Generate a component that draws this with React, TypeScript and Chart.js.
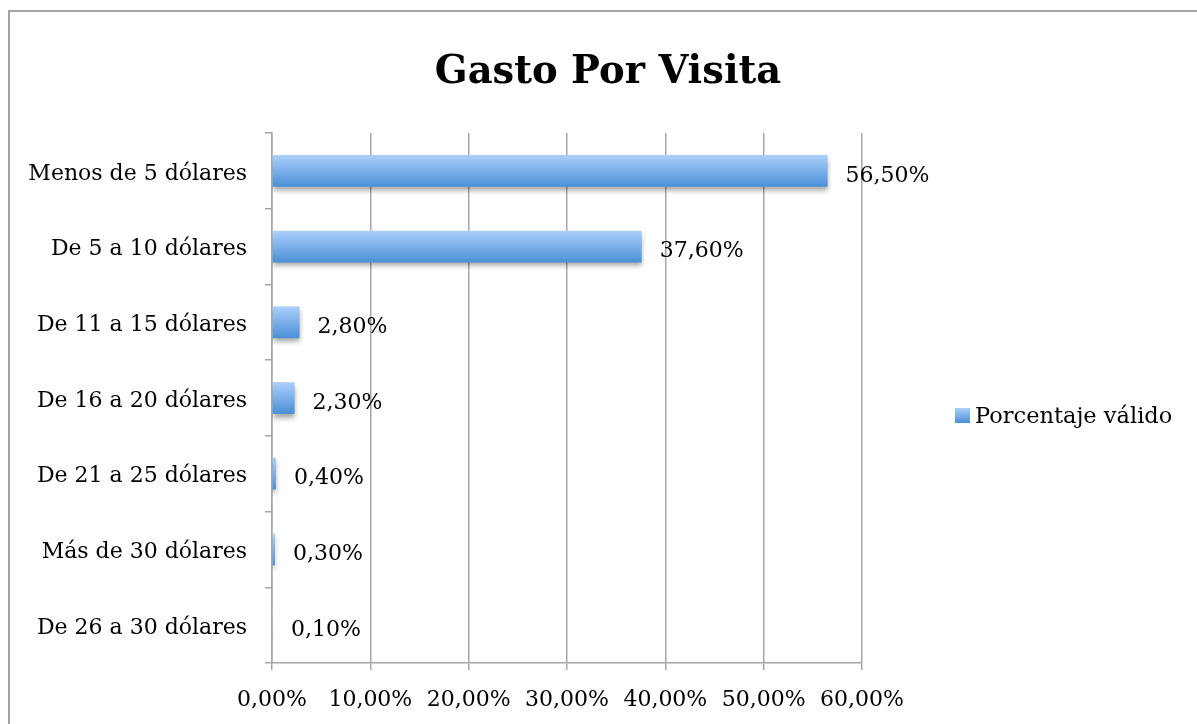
import React, { useEffect, useRef } from "react";
import { Chart, registerables } from "chart.js";

Chart.register(...registerables);

const chartTitle = "Gasto Por Visita";
const seriesName = "Porcentaje válido";
const categories = [
  "Menos de 5 dólares",
  "De 5 a 10 dólares",
  "De 11 a 15 dólares",
  "De 16 a 20 dólares",
  "De 21 a 25 dólares",
  "Más de 30 dólares",
  "De 26 a 30 dólares",
];
const values = [56.5, 37.6, 2.8, 2.3, 0.4, 0.3, 0.1];
const xTicks = [0, 10, 20, 30, 40, 50, 60];

const FONT = "'DejaVu Serif', serif";
const GRID = "#a6a6a6";
const BAR_PCT = 0.42;

const fmt = (v: number) => v.toFixed(2).replace(".", ",") + "%";

function makeGrad(ctx: CanvasRenderingContext2D, y0: number, y1: number) {
  const g = ctx.createLinearGradient(0, y0, 0, y1);
  g.addColorStop(0, "#acd0fb");
  g.addColorStop(1, "#4a8fd8");
  return g;
}

const decorPlugin = {
  id: "decor",
  beforeDraw(chart: any) {
    const ctx = chart.ctx;
    ctx.save();
    ctx.fillStyle = "#ffffff";
    ctx.fillRect(0, 0, chart.width, chart.height);
    ctx.strokeStyle = "#a3a3a3";
    ctx.lineWidth = 2;
    ctx.beginPath();
    ctx.moveTo(9, 724);
    ctx.lineTo(9, 11);
    ctx.lineTo(1197, 11);
    ctx.stroke();
    // title
    ctx.fillStyle = "#000";
    ctx.font = `bold 38.5px ${FONT}`;
    ctx.textAlign = "center";
    ctx.textBaseline = "middle";
    ctx.fillText(chartTitle, 608, 73);
    // legend
    const g = makeGrad(ctx, 408, 423);
    ctx.fillStyle = g;
    ctx.fillRect(955, 408, 15, 15);
    ctx.fillStyle = "#000";
    ctx.font = `22.5px ${FONT}`;
    ctx.textAlign = "left";
    ctx.fillText(seriesName, 975, 417);
    ctx.restore();
  },
  beforeDatasetsDraw(chart: any) {
    const ctx = chart.ctx;
    ctx.save();
    ctx.shadowColor = "rgba(0,0,0,0.35)";
    ctx.shadowBlur = 5;
    ctx.shadowOffsetY = 4;
  },
  afterDatasetsDraw(chart: any) {
    const ctx = chart.ctx;
    ctx.restore();
    const meta = chart.getDatasetMeta(0);
    ctx.save();
    ctx.fillStyle = "#000";
    ctx.font = `22px ${FONT}`;
    ctx.textAlign = "left";
    ctx.textBaseline = "middle";
    meta.data.forEach((bar: any, i: number) => {
      ctx.fillText(fmt(values[i]), bar.x + 18, bar.y + 5);
    });
    ctx.restore();
  },
};

export default function App() {
  const ref = useRef<HTMLCanvasElement>(null);
  useEffect(() => {
    if (!ref.current) return;
    const chart = new Chart(ref.current, {
      type: "bar",
      data: {
        labels: categories,
        datasets: [
          {
            label: seriesName,
            data: values,
            backgroundColor: (c: any) => {
              const ch = c.chart;
              const ys = ch.scales?.y;
              if (!ys || c.dataIndex === undefined) return "#7fb0ea";
              const band = ys.getPixelForValue(1) - ys.getPixelForValue(0);
              const yc = ys.getPixelForValue(c.dataIndex);
              const h = band * BAR_PCT;
              if (!isFinite(band) || !isFinite(yc) || !(h > 0)) return "#7fb0ea";
              return makeGrad(ch.ctx, yc - h / 2, yc + h / 2);
            },
            borderWidth: 0,
            barPercentage: BAR_PCT,
            categoryPercentage: 1,
          },
        ],
      },
      options: {
        indexAxis: "y",
        responsive: false,
        animation: false,
        layout: { padding: { top: 133, right: 335, left: 0, bottom: 0 } },
        plugins: {
          legend: { display: false },
          title: { display: false },
          tooltip: { enabled: false },
        },
        scales: {
          x: {
            min: 0,
            max: 60,
            afterBuildTicks: (s: any) => {
              s.ticks = xTicks.map((v) => ({ value: v }));
            },
            afterFit: (s: any) => {
              s.height = 724 - 663;
            },
            ticks: {
              color: "#000",
              font: { family: FONT, size: 22 },
              padding: 17,
              maxRotation: 0,
              callback: (v: any) => fmt(Number(v)),
            },
            grid: { color: GRID, lineWidth: 1.5, tickLength: 7, drawTicks: true },
            border: { color: GRID, width: 1.5 },
          },
          y: {
            afterFit: (s: any) => {
              s.width = 272;
            },
            ticks: {
              color: "#000",
              font: { family: FONT, size: 22 },
              padding: 18,
              labelOffset: 3,
            },
            grid: {
              color: GRID,
              lineWidth: 1.5,
              drawOnChartArea: false,
              drawTicks: true,
              tickLength: 7,
              offset: true,
            },
            border: { color: GRID, width: 1.5 },
          },
        },
      },
      plugins: [decorPlugin],
    });
    return () => chart.destroy();
  }, []);
  return (
    <div style={{ position: "fixed", left: 0, top: 0, width: 1197, height: 724 }}>
      <canvas ref={ref} width={1197} height={724} style={{ display: "block" }} />
    </div>
  );
}
